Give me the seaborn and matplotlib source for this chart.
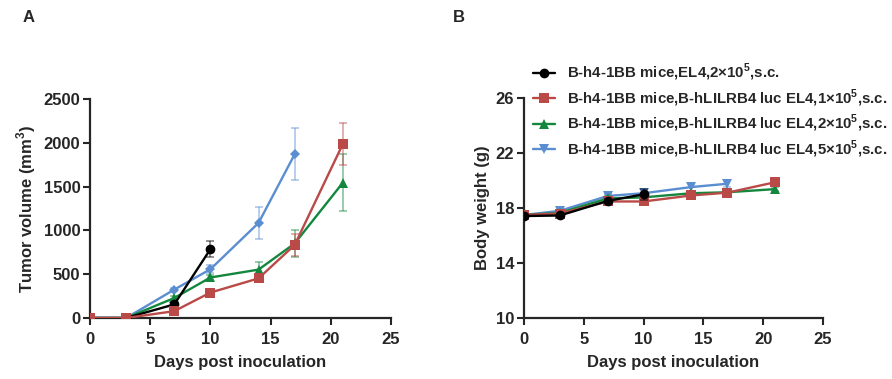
import numpy as np
import pandas as pd
import matplotlib
matplotlib.use("Agg")
import matplotlib.pyplot as plt
import seaborn as sns

# --- data ---
groups = [
    r"B-h4-1BB mice,EL4,2×10$^{\mathbf{5}}$,s.c.",
    r"B-h4-1BB mice,B-hLILRB4 luc EL4,1×10$^{\mathbf{5}}$,s.c.",
    r"B-h4-1BB mice,B-hLILRB4 luc EL4,2×10$^{\mathbf{5}}$,s.c.",
    r"B-h4-1BB mice,B-hLILRB4 luc EL4,5×10$^{\mathbf{5}}$,s.c.",
]
colors = ["#000000", "#B94A48", "#14873F", "#5B8ED0"]

days_black = [0, 3, 7, 10]
days_red = [0, 3, 7, 10, 14, 17, 21]
days_green = [0, 3, 7, 10, 14, 17, 21]
days_blue = [0, 3, 7, 10, 14, 17]

# Panel A: tumor volume (mm3)
tv_black = [0, 0, 155, 785]
tv_black_err = [0, 0, 20, 88]
tv_red = [0, 0, 78, 290, 452, 833, 1985]
tv_red_err = [0, 0, 10, 25, 30, 130, 235]
tv_green = [0, 0, 228, 462, 552, 850, 1543]
tv_green_err = [0, 0, 20, 30, 88, 150, 325]
tv_blue = [0, 0, 324, 556, 1085, 1868]
tv_blue_err = [0, 0, 20, 48, 180, 295]

# Panel B: body weight (g)
bw_black = [17.42, 17.46, 18.52, 19.0]
bw_black_err = [0.15, 0.1, 0.15, 0.4]
bw_red = [17.5, 17.6, 18.48, 18.48, 18.92, 19.12, 19.88]
bw_red_err = [0.1, 0.1, 0.15, 0.15, 0.15, 0.15, 0.15]
bw_green = [17.5, 17.65, 18.7, 18.78, 19.08, 19.15, 19.38]
bw_green_err = [0.1, 0.1, 0.15, 0.15, 0.15, 0.15, 0.15]
bw_blue = [17.5, 17.8, 18.88, 19.08, 19.53, 19.77]
bw_blue_err = [0.1, 0.15, 0.15, 0.3, 0.3, 0.25]

sns.set_style("ticks")
plt.rcParams["font.family"] = ["Liberation Sans", "DejaVu Sans"]
plt.rcParams["font.weight"] = "bold"
plt.rcParams["mathtext.fontset"] = "custom"
plt.rcParams["mathtext.rm"] = "Liberation Sans"
plt.rcParams["mathtext.bf"] = "Liberation Sans:bold"

fig = plt.figure(figsize=(8.92, 3.79), dpi=100)
axA = fig.add_axes([0.1009, 0.161, 0.3374, 0.578])
axB = fig.add_axes([0.5874, 0.161, 0.3352, 0.580])

series_A = [
    (days_blue, tv_blue, tv_blue_err, colors[3], "D", 5),
    (days_green, tv_green, tv_green_err, colors[2], "^", 7),
    (days_black, tv_black, tv_black_err, colors[0], "o", 7),
    (days_red, tv_red, tv_red_err, colors[1], "s", 7),
]
series_B = [
    (days_blue, bw_blue, bw_blue_err, colors[3], "v", 7, groups[3]),
    (days_green, bw_green, bw_green_err, colors[2], "^", 7, groups[2]),
    (days_red, bw_red, bw_red_err, colors[1], "s", 7, groups[1]),
    (days_black, bw_black, bw_black_err, colors[0], "o", 7, groups[0]),
]

for i, (x, y, e, c, m, ms) in enumerate(series_A):
    df = pd.DataFrame({"day": x, "val": y})
    axA.errorbar(x, y, yerr=e, fmt="none", ecolor=c, alpha=0.55,
                 elinewidth=1.1, capsize=3, capthick=1.1, zorder=2 + i)
    sns.lineplot(data=df, x="day", y="val", ax=axA, color=c, marker=m,
                 markersize=ms, markeredgewidth=0, linewidth=1.7, zorder=3 + i)

handles = {}
for i, (x, y, e, c, m, ms, lab) in enumerate(series_B):
    df = pd.DataFrame({"day": x, "val": y})
    axB.errorbar(x, y, yerr=e, fmt="none", ecolor=c, alpha=0.55,
                 elinewidth=1.1, capsize=3, capthick=1.1, zorder=2 + i)
    sns.lineplot(data=df, x="day", y="val", ax=axB, color=c, marker=m,
                 markersize=ms, markeredgewidth=0, linewidth=1.7, zorder=3 + i)
    handles[lab] = axB.lines[-1]

axA.set_ylim(0, 2500)
axA.set_yticks([0, 500, 1000, 1500, 2000, 2500])
axA.set_ylabel(r"Tumor volume (mm$^{\mathbf{3}}$)", fontsize=12, fontweight="bold", labelpad=4)
axB.set_ylim(10, 26)
axB.set_yticks([10, 14, 18, 22, 26])
axB.set_ylabel("Body weight (g)", fontsize=12, fontweight="bold", labelpad=4)

for ax in (axA, axB):
    sns.despine(ax=ax)
    ax.spines["left"].set_linewidth(1.6)
    ax.spines["bottom"].set_linewidth(1.6)
    ax.tick_params(width=1.5, length=5, labelsize=12)
    ax.tick_params(axis="x", pad=5)
    ax.tick_params(axis="y", pad=2)
    ax.set_xlim(0, 25)
    ax.set_xticks([0, 5, 10, 15, 20, 25])
    ax.set_xlabel("Days post inoculation", fontsize=12, fontweight="bold", labelpad=6)
    for t in ax.get_xticklabels() + ax.get_yticklabels():
        t.set_fontweight("bold")

leg = fig.legend([handles[g] for g in groups], groups, loc="upper left",
                 bbox_to_anchor=(533 / 892, 1 - 62 / 379), bbox_transform=fig.transFigure,
                 frameon=False, fontsize=10.8, handlelength=1.45,
                 handletextpad=0.8, labelspacing=0.28, borderaxespad=0, borderpad=0)
for t in leg.get_texts():
    t.set_fontweight("bold")

fig.text(0.025, 0.955, "A", fontsize=12, fontweight="bold", va="center")
fig.text(0.508, 0.955, "B", fontsize=12, fontweight="bold", va="center")

fig.savefig("out.png", dpi=100)
